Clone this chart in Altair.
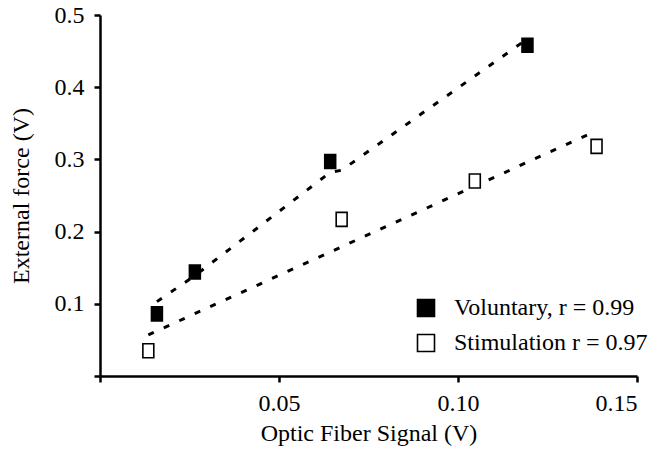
import altair as alt
import pandas as pd

# Measured data points
vol_x = [0.0159, 0.0265, 0.0643, 0.1194]
vol_y = [0.086, 0.144, 0.297, 0.458]
stim_x = [0.0135, 0.0675, 0.1047, 0.1387]
stim_y = [0.035, 0.217, 0.270, 0.318]

# Fitted (dashed) trend lines
vol_fit_x = [0.0159, 0.0265, 0.0643, 0.0675, 0.1194]
vol_fit_y = [0.103, 0.139, 0.282, 0.285, 0.467]
stim_fit_x = [0.0135, 0.1388]
stim_fit_y = [0.057, 0.340]

labels = ["Voluntary, r = 0.99", "Stimulation r = 0.97"]

pts = pd.DataFrame({
    "x": vol_x + stim_x,
    "y": vol_y + stim_y,
    "series": [labels[0]] * len(vol_x) + [labels[1]] * len(stim_x),
})
fits = pd.DataFrame({
    "x": vol_fit_x + stim_fit_x,
    "y": vol_fit_y + stim_fit_y,
    "series": [labels[0]] * len(vol_fit_x) + [labels[1]] * len(stim_fit_x),
})

FONT = "Liberation Serif"
FS = 24

xs = alt.Scale(domain=[0, 0.15], nice=False, zero=False)
ys = alt.Scale(domain=[0, 0.5], nice=False, zero=False)

xax = alt.Axis(values=[0, 0.05, 0.10, 0.15],
               labelExpr="datum.value == 0 ? '' : format(datum.value, '.2f')",
               title="Optic Fiber Signal (V)", grid=False)
yax = alt.Axis(values=[0, 0.1, 0.2, 0.3, 0.4, 0.5],
               labelExpr="datum.value == 0 ? '' : format(datum.value, '.1f')",
               title="External force (V)", grid=False)

lines = alt.Chart(fits).mark_line(
    color="black", strokeWidth=3, strokeDash=[6, 11]
).encode(
    x=alt.X("x:Q", scale=xs, axis=xax),
    y=alt.Y("y:Q", scale=ys, axis=yax),
    detail="series:N",
)

points = alt.Chart(pts).mark_point(
    shape="M-0.78,-1H0.78V1H-0.78Z", size=196, filled=True,
    stroke="black", strokeWidth=1.6, opacity=1
).encode(
    x=alt.X("x:Q", scale=xs),
    y=alt.Y("y:Q", scale=ys),
    fill=alt.Fill("series:N",
                  scale=alt.Scale(domain=labels, range=["black", "white"]),
                  legend=alt.Legend(
                      title=None, orient="none", legendX=314, legendY=281,
                      symbolType="square", symbolSize=289,
                      symbolStrokeColor="black", symbolStrokeWidth=1.6,
                      labelFont=FONT, labelFontSize=FS, labelColor="black",
                      labelOffset=16, rowPadding=11, padding=0, labelLimit=0,
                  )),
)

chart = alt.layer(lines, points).properties(
    width=537, height=361,
    autosize=alt.AutoSizeParams(type="none"),
    padding={"left": 100, "top": 15, "right": 20, "bottom": 73},
).configure_view(stroke=None).configure_axis(
    labelFont=FONT, titleFont=FONT, labelFontSize=FS, titleFontSize=FS,
    titleFontWeight="normal", labelColor="black", titleColor="black",
    domainColor="black", domainWidth=2.5, tickColor="black", tickWidth=2.5,
    tickSize=6,
).configure_axisX(
    labelPadding=9, titlePadding=6,
).configure_axisY(
    labelPadding=10, titlePadding=21,
)

chart.save("out.html", embed_options={"renderer": "svg", "actions": False})
